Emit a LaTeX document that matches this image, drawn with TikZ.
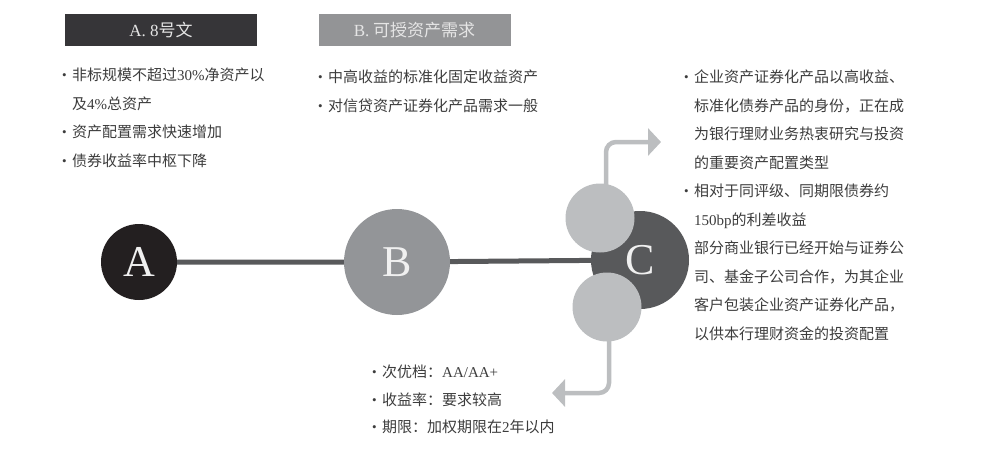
\documentclass[tikz,border=0pt]{standalone}
\usepackage{fontspec}
\newfontfamily\cjk{Noto Sans CJK SC}
\newfontfamily\lat{Liberation Serif}
\usetikzlibrary{arrows.meta}
\definecolor{tituloA}{HTML}{363538}
\definecolor{tituloB}{HTML}{939496}
\definecolor{bolaA}{HTML}{231F20}
\definecolor{bolaB}{HTML}{939598}
\definecolor{bolaC}{HTML}{58595B}
\definecolor{claro}{HTML}{BCBEC0}
\definecolor{texto}{HTML}{3C3C3C}
\newcommand{\bul}{\makebox[10pt][l]{\raisebox{1pt}{\lat\fontsize{13}{13}\selectfont\textbullet}}}
\newcommand{\ind}{\hspace*{10pt}}
\begin{document}
\begin{tikzpicture}[x=1pt, y=-1pt]
  \tikzstyle{titulo}=[rectangle, minimum width=192pt, minimum height=32pt, inner sep=0pt,
                      font=\cjk\fontsize{17}{17}\selectfont, text=white!90!black]
  \tikzstyle{bola}=[circle, inner sep=0pt, font=\lat\fontsize{44}{44}\selectfont, text=white!94!black]
  \tikzstyle{lista}=[anchor=base west, align=left, inner sep=0pt, text=texto,
                     font=\cjk\fontsize{15}{28.5}\selectfont]
  \tikzstyle{seta}=[claro, line width=4.5pt, rounded corners=10pt, -{Triangle[length=13pt, width=27pt]}]
  \useasboundingbox (0,0) rectangle (1007,455);

  \node[titulo, fill=tituloA] (tA) at (161,30) {{\lat A. 8}号文};
  \node[titulo, fill=tituloB] (tB) at (414.5,30) {{\lat B.} 可授资产需求};

  \node[lista] (listaA) at (62,166) {\bul 非标规模不超过{\lat 30\%}净资产以\\
    \ind 及{\lat 4\%}总资产\\
    \bul 资产配置需求快速增加\\
    \bul 债券收益率中枢下降};
  \node[lista] (listaB) at (318,111) {\bul 中高收益的标准化固定收益资产\\
    \bul 对信贷资产证券化产品需求一般};
  \node[lista] (listaC) at (684,339) {\bul 企业资产证券化产品以高收益、\\
    \ind 标准化债券产品的身份，正在成\\
    \ind 为银行理财业务热衷研究与投资\\
    \ind 的重要资产配置类型\\
    \bul 相对于同评级、同期限债券约\\
    \ind {\lat 150bp}的利差收益\\
    \ind 部分商业银行已经开始与证券公\\
    \ind 司、基金子公司合作，为其企业\\
    \ind 客户包装企业资产证券化产品，\\
    \ind 以供本行理财资金的投资配置};
  \node[lista, font=\cjk\fontsize{15}{27.5}\selectfont] (listaD) at (372,432.5) {\bul 次优档：{\lat AA/AA+}\\
    \bul 收益率：要求较高\\
    \bul 期限：加权期限在{\lat 2}年以内};

  \node[bola, fill=bolaA, minimum size=76pt] (A) at (139,262) {A};
  \node[bola, fill=bolaB, minimum size=106pt] (B) at (397,262) {B};
  \node[bola, fill=bolaC, minimum size=98pt] (C) at (640,260) {C};
  \draw[bolaC, line width=5pt] (A) -- (B) -- (C);

  \node[circle, fill=claro, minimum size=69pt] (c1) at (600,218) {};
  \node[circle, fill=claro, minimum size=69pt] (c2) at (607,307) {};
  \coordinate (pontaC) at (661,142);
  \coordinate (pontaD) at (552,393);
  \draw[seta] ([xshift=6pt]c1.center) |- (pontaC);
  \draw[seta] ([xshift=2pt]c2.center) |- (pontaD);
\end{tikzpicture}
\end{document}
